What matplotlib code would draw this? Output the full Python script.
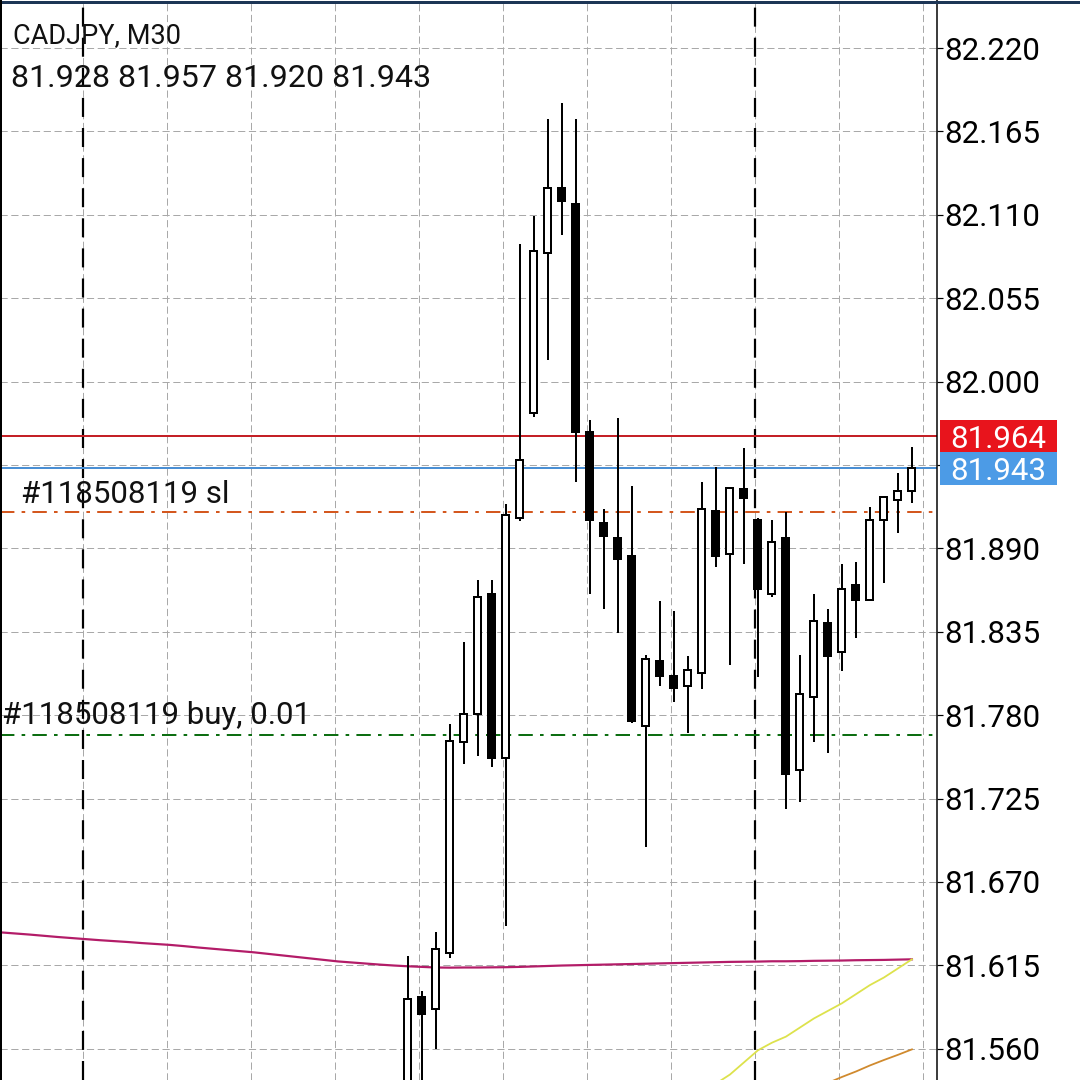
import matplotlib
matplotlib.use("Agg")
import matplotlib.pyplot as plt
from matplotlib.patches import Rectangle
from matplotlib.lines import Line2D
import matplotlib.transforms as mtrans

plt.rcParams['font.family'] = ['Roboto', 'DejaVu Sans']

# ---------------- data ----------------
symbol_title = "CADJPY, M30"
ohlc_header = "81.928 81.957 81.920 81.943"

bar_index = list(range(37))
opens  = [81.520, 81.594, 81.586, 81.623, 81.762, 81.781, 81.860, 81.752, 81.910, 81.979,
          82.085, 82.128, 82.117, 81.967, 81.907, 81.897, 81.885, 81.773, 81.816, 81.806,
          81.799, 81.808, 81.915, 81.886, 81.929, 81.909, 81.860, 81.897, 81.744, 81.792,
          81.841, 81.822, 81.866, 81.856, 81.909, 81.922, 81.928]
highs  = [81.621, 81.598, 81.637, 81.774, 81.828, 81.869, 81.869, 81.919, 82.091, 82.109,
          82.173, 82.184, 82.173, 81.975, 81.916, 81.976, 81.931, 81.820, 81.855, 81.849,
          81.819, 81.934, 81.944, 81.930, 81.956, 81.910, 81.909, 81.914, 81.820, 81.860,
          81.850, 81.880, 81.881, 81.917, 81.924, 81.940, 81.957]
lows   = [81.515, 81.530, 81.560, 81.620, 81.748, 81.753, 81.746, 81.641, 81.908, 81.977,
          82.014, 82.097, 81.934, 81.860, 81.850, 81.834, 81.775, 81.693, 81.799, 81.789,
          81.768, 81.797, 81.878, 81.813, 81.880, 81.805, 81.858, 81.718, 81.723, 81.762,
          81.755, 81.809, 81.831, 81.856, 81.867, 81.900, 81.920]
closes = [81.593, 81.583, 81.626, 81.763, 81.781, 81.858, 81.752, 81.912, 81.948, 82.086,
          82.128, 82.119, 81.967, 81.909, 81.898, 81.883, 81.776, 81.817, 81.806, 81.798,
          81.810, 81.916, 81.885, 81.930, 81.923, 81.863, 81.894, 81.741, 81.794, 81.842,
          81.819, 81.863, 81.856, 81.909, 81.924, 81.928, 81.943]

# long moving average (magenta), bars -29 .. 36
ma_slow_index = list(range(-29, 37))
ma_slow = [81.6367, 81.6360, 81.6353, 81.6345, 81.6337, 81.6330, 81.6323, 81.6316, 81.6310, 81.6304,
           81.6297, 81.6291, 81.6285, 81.6277, 81.6268, 81.6260, 81.6252, 81.6244, 81.6236, 81.6226,
           81.6216, 81.6206, 81.6196, 81.6186, 81.6176, 81.6169, 81.6162, 81.6155, 81.6149, 81.6144,
           81.6140, 81.6136, 81.6135, 81.6136, 81.6136, 81.6137, 81.6138, 81.6140, 81.6143, 81.6146,
           81.6149, 81.6151, 81.6153, 81.6155, 81.6157, 81.6159, 81.6161, 81.6163, 81.6165, 81.6167,
           81.6169, 81.6171, 81.6173, 81.6174, 81.6175, 81.6177, 81.6177, 81.6178, 81.6180, 81.6181,
           81.6182, 81.6184, 81.6185, 81.6186, 81.6188, 81.6190]

# yellow moving average, bars 22 .. 36
ma_yellow_index = list(range(22, 37))
ma_yellow = [81.537, 81.543, 81.551, 81.559, 81.564, 81.568, 81.574, 81.580, 81.585, 81.590,
             81.596, 81.602, 81.607, 81.613, 81.619]

# orange moving average, bars 30 .. 36
ma_orange_index = list(range(30, 37))
ma_orange = [81.5375, 81.5414, 81.5450, 81.5490, 81.5526, 81.5560, 81.5596]

price_ticks = [82.220, 82.165, 82.110, 82.055, 82.000, 81.945, 81.890, 81.835,
               81.780, 81.725, 81.670, 81.615, 81.560]
hidden_tick = 81.945   # covered by the bid label in the original
grid_x = [-23.2, -17.2, -11.2, -5.2, 0.8, 6.8, 12.8, 18.8, 24.8, 30.8, 36.8]
day_separators = [-23.2, 24.8]

ask_price = 81.964
bid_price = 81.943
sl_price = 81.914
entry_price = 81.767
sl_label = "#118508119 sl"
entry_label = "#118508119 buy, 0.01"

# ---------------- figure ----------------
W = H = 1080
fig = plt.figure(figsize=(10.8, 10.8), dpi=100, facecolor='white')
ax = fig.add_axes([0, 0, 937 / W, 1])
ax.set_facecolor('white')
ax.set_xlim(-29.14, 37.79)
ax.set_ylim(81.5394, 82.2517)

PX = 0.72  # points per pixel

# grid
ax.set_xticks(grid_x)
ax.set_xticklabels([])
ax.tick_params(axis='x', length=0)
ax.set_yticks(price_ticks)
ax.set_yticklabels(["" if abs(t - hidden_tick) < 1e-9 else f"{t:.3f}" for t in price_ticks])
ax.yaxis.tick_right()
ax.tick_params(axis='y', direction='out', length=6 * PX, width=1.2 * PX,
               labelsize=22.5, pad=1, colors='black')
ax.grid(True, color='#a9a9a9', lw=1.0 * PX, linestyle=(0, (10 * PX, 5 * PX)), zorder=0)
ax.set_axisbelow(True)

for s in ['left', 'top', 'bottom']:
    ax.spines[s].set_visible(False)
ax.spines['right'].set_color('black')
ax.spines['right'].set_linewidth(1.5 * PX)

for xs in day_separators:
    ax.axvline(xs, color='black', lw=2.2 * PX, linestyle=(0, (12 * PX, 7 * PX)), zorder=1)

# horizontal lines
ax.axhline(ask_price, color='#c42026', lw=2 * PX, zorder=2)
ax.axhline(bid_price, color='#4a8fd4', lw=2 * PX, zorder=2)
ax.axhline(sl_price, color='#d4581f', lw=2 * PX,
           linestyle=(0, (10 * PX, 5 * PX, 2.5 * PX, 5 * PX)), zorder=2)
ax.axhline(entry_price, color='#0d6e12', lw=2 * PX,
           linestyle=(0, (10 * PX, 5 * PX, 2.5 * PX, 5 * PX)), zorder=2)

# moving averages
ax.plot(ma_slow_index, ma_slow, color='#b31c68', lw=2.2 * PX, zorder=3)
ax.plot(ma_yellow_index, ma_yellow, color='#dde24c', lw=1.8 * PX, zorder=3)
ax.plot(ma_orange_index, ma_orange, color='#d08a2e', lw=1.8 * PX, zorder=3)

# candles
body_w = 0.5
for i, o, h, l, c in zip(bar_index, opens, highs, lows, closes):
    ax.vlines(i, l, h, color='black', lw=2 * PX, zorder=4)
    up = c >= o
    lo_b = min(o, c)
    hb = max(abs(c - o), 0.0007)
    ax.add_patch(Rectangle((i - body_w / 2, lo_b), body_w, hb,
                           facecolor='white' if up else 'black',
                           edgecolor='black', lw=2 * PX, zorder=5))

# order labels
fig.text(21 / W, 1 - 503 / H, sl_label, fontsize=22.5, color='#111111', va='baseline', ha='left')
fig.text(2 / W, 1 - 724 / H, entry_label, fontsize=22.5, color='#111111', va='baseline', ha='left')

# header
fig.text(13 / W, 1 - 43 / H, symbol_title, fontsize=19.5, color='#111111', va='baseline', ha='left')
fig.text(11 / W, 1 - 87 / H, ohlc_header, fontsize=23.2, color='#111111', va='baseline', ha='left')

# price label boxes on right axis
bt = mtrans.blended_transform_factory(fig.transFigure, ax.transData)
box_h = 33 / 1516.4
for price, fc in [(ask_price, '#e8141c'), (bid_price, '#4c9be6')]:
    rect = Rectangle((940 / W, price - box_h / 2), 117 / W, box_h, transform=bt,
                     facecolor=fc, edgecolor='none', zorder=20, clip_on=False)
    fig.patches.append(rect)
    rect.set_figure(fig)
    fig.text(950 / W, price, f"{price:.3f}", transform=bt, fontsize=22.5, color='white',
             va='center_baseline', ha='left', zorder=21)

# frame lines
fig.add_artist(Line2D([0, 1], [1 - 1.5 / H, 1 - 1.5 / H], transform=fig.transFigure,
                      color='#1d3656', lw=3 * PX))
fig.add_artist(Line2D([1 / W, 1 / W], [0, 1], transform=fig.transFigure,
                      color='black', lw=2 * PX))

fig.savefig('out.png', dpi=100, facecolor='white')
